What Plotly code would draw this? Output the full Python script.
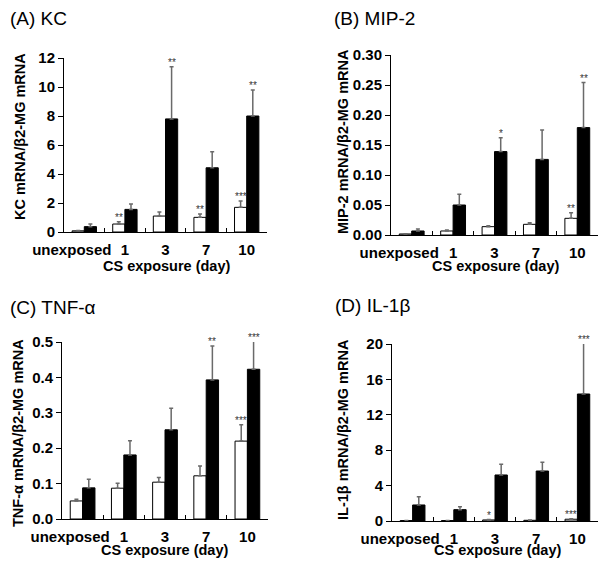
import plotly.graph_objects as go

categories = ["unexposed", "1", "3", "7", "10"]
tick_labels = ["unexposed\u00a0\u00a0\u00a0\u00a0\u00a0\u00a0", "1", "3", "7", "10"]

# (A) KC
kc_white = [0.08, 0.55, 1.10, 1.01, 1.70]
kc_white_err = [0.03, 0.16, 0.28, 0.23, 0.44]
kc_black = [0.37, 1.56, 7.8, 4.43, 8.0]
kc_black_err = [0.18, 0.37, 3.6, 1.1, 1.8]
kc_white_sig = ["", "**", "", "**", "***"]
kc_black_sig = ["", "", "**", "", "**"]

# (B) MIP-2
mip_white = [0.0017, 0.0067, 0.0139, 0.0178, 0.0278]
mip_white_err = [0.0005, 0.0016, 0.0017, 0.0028, 0.0094]
mip_black = [0.0067, 0.050, 0.139, 0.126, 0.179]
mip_black_err = [0.0033, 0.018, 0.023, 0.049, 0.075]
mip_white_sig = ["", "", "", "", "**"]
mip_black_sig = ["", "", "*", "", "**"]

# (C) TNF-alpha
tnf_white = [0.051, 0.087, 0.104, 0.122, 0.220]
tnf_white_err = [0.005, 0.014, 0.013, 0.028, 0.046]
tnf_black = [0.088, 0.181, 0.252, 0.393, 0.423]
tnf_black_err = [0.024, 0.040, 0.061, 0.096, 0.080]
tnf_white_sig = ["", "", "", "", "***"]
tnf_black_sig = ["", "", "", "**", "***"]

# (D) IL-1beta
il_white = [0.05, 0.05, 0.12, 0.08, 0.20]
il_white_err = [0.02, 0.02, 0.05, 0.03, 0.05]
il_black = [1.81, 1.28, 5.20, 5.65, 14.35]
il_black_err = [0.94, 0.34, 1.20, 0.98, 5.75]
il_white_sig = ["", "", "*", "", "***"]
il_black_sig = ["", "", "", "", "***"]

panels = [
    dict(title="(A) KC", ytitle="KC mRNA/\u03b22-MG mRNA", w=kc_white, we=kc_white_err,
         b=kc_black, be=kc_black_err, ws=kc_white_sig, bs=kc_black_sig,
         yrange=[0, 12], dtick=2, fmt="d", xdom=[64, 267], ydom=[232, 58],
         tpos=(8, 18), ytpos=(20, 137), xtpos=(166, 266)),
    dict(title="(B) MIP-2", ytitle="MIP-2 mRNA/\u03b22-MG mRNA", w=mip_white, we=mip_white_err,
         b=mip_black, be=mip_black_err, ws=mip_white_sig, bs=mip_black_sig,
         yrange=[0, 0.30], dtick=0.05, fmt=".2f", xdom=[391, 598], ydom=[235, 55],
         tpos=(332, 18), ytpos=(343, 142), xtpos=(495, 266)),
    dict(title="(C) TNF-\u03b1", ytitle="TNF-\u03b1 mRNA/\u03b22-MG mRNA", w=tnf_white, we=tnf_white_err,
         b=tnf_black, be=tnf_black_err, ws=tnf_white_sig, bs=tnf_black_sig,
         yrange=[0, 0.5], dtick=0.1, fmt=".1f", xdom=[62, 268], ydom=[519, 342],
         tpos=(8, 307), ytpos=(18, 433), xtpos=(164, 550)),
    dict(title="(D) IL-1\u03b2", ytitle="IL-1\u03b2 mRNA/\u03b22-MG mRNA", w=il_white, we=il_white_err,
         b=il_black, be=il_black_err, ws=il_white_sig, bs=il_black_sig,
         yrange=[0, 20], dtick=4, fmt="d", xdom=[392, 598], ydom=[521, 344],
         tpos=(333, 305), ytpos=(343, 430), xtpos=(497, 550)),
]

W, H = 600, 562
FONT = "Liberation Sans, Arial, sans-serif"
fig = go.Figure()
annotations = []
layout = {}

for i, p in enumerate(panels):
    n = "" if i == 0 else str(i + 1)
    xa, ya = "x" + n, "y" + n
    fig.add_trace(go.Bar(
        x=categories, y=p["w"], xaxis=xa, yaxis=ya, offset=-0.3, width=0.3,
        marker=dict(color="white", line=dict(color="black", width=1)),
        error_y=dict(type="data", array=p["we"], arrayminus=[0] * 5, symmetric=False,
                     color="#6a6a6a", thickness=1.5, width=2),
        cliponaxis=False, showlegend=False))
    fig.add_trace(go.Bar(
        x=categories, y=p["b"], xaxis=xa, yaxis=ya, offset=0, width=0.3,
        marker=dict(color="black", line=dict(color="black", width=1)),
        error_y=dict(type="data", array=p["be"], arrayminus=[0] * 5, symmetric=False,
                     color="#6a6a6a", thickness=1.5, width=2),
        cliponaxis=False, showlegend=False))
    x0, x1 = p["xdom"]
    yb, yt = p["ydom"]
    layout["xaxis" + n] = dict(
        domain=[x0 / W, x1 / W], anchor=ya, type="category", tickson="boundaries",
        tickmode="array", tickvals=categories, ticktext=tick_labels, tickangle=0,
        ticks="inside", ticklen=4, tickcolor="black", showline=True, linecolor="black",
        linewidth=1, showgrid=False, zeroline=False, ticklabelstandoff=4, automargin=False,
        tickfont=dict(family=FONT, size=15, color="black", weight="bold"),
        range=[-0.5, 4.5], fixedrange=True)
    layout["yaxis" + n] = dict(
        domain=[(H - yb) / H, (H - yt) / H], anchor=xa, range=p["yrange"], dtick=p["dtick"],
        tick0=0, tickformat=p["fmt"], ticks="outside", ticklen=5, tickcolor="black",
        showline=True, linecolor="black", linewidth=1, showgrid=False, zeroline=False,
        automargin=False, fixedrange=True,
        tickfont=dict(family=FONT, size=15, color="black", weight="bold"))
    # significance stars
    ymax = p["yrange"][1]
    for j in range(5):
        for vals, errs, sig, dx in ((p["w"], p["we"], p["ws"], -0.15), (p["b"], p["be"], p["bs"], 0.15)):
            if sig[j]:
                annotations.append(dict(
                    x=j + dx, y=min(vals[j] + errs[j], ymax), xref=xa, yref=ya, text=sig[j],
                    showarrow=False, yanchor="bottom", xanchor="center", yshift=-3,
                    font=dict(family=FONT, size=10, color="#333333")))
    # panel title
    tx, ty = p["tpos"]
    annotations.append(dict(x=tx / W, y=(H - ty) / H, xref="paper", yref="paper",
                            text=p["title"], showarrow=False, xanchor="left", yanchor="middle",
                            font=dict(family=FONT, size=19, color="black")))
    yx, yy = p["ytpos"]
    annotations.append(dict(x=yx / W, y=(H - yy) / H, xref="paper", yref="paper",
                            text=p["ytitle"], showarrow=False, textangle=-90,
                            xanchor="center", yanchor="middle",
                            font=dict(family=FONT, size=14.5, color="black", weight="bold")))
    xx, xy = p["xtpos"]
    annotations.append(dict(x=xx / W, y=(H - xy) / H, xref="paper", yref="paper",
                            text="CS exposure (day)", showarrow=False,
                            xanchor="center", yanchor="middle",
                            font=dict(family=FONT, size=14.5, color="black", weight="bold")))

fig.update_layout(
    template="none",
    width=W, height=H, margin=dict(l=0, r=0, t=0, b=0, autoexpand=False),
    paper_bgcolor="white", plot_bgcolor="white", barmode="overlay",
    annotations=annotations, **layout)

fig.write_html("out.html", config={"displayModeBar": False},
               post_script="document.body.style.margin='0';")
